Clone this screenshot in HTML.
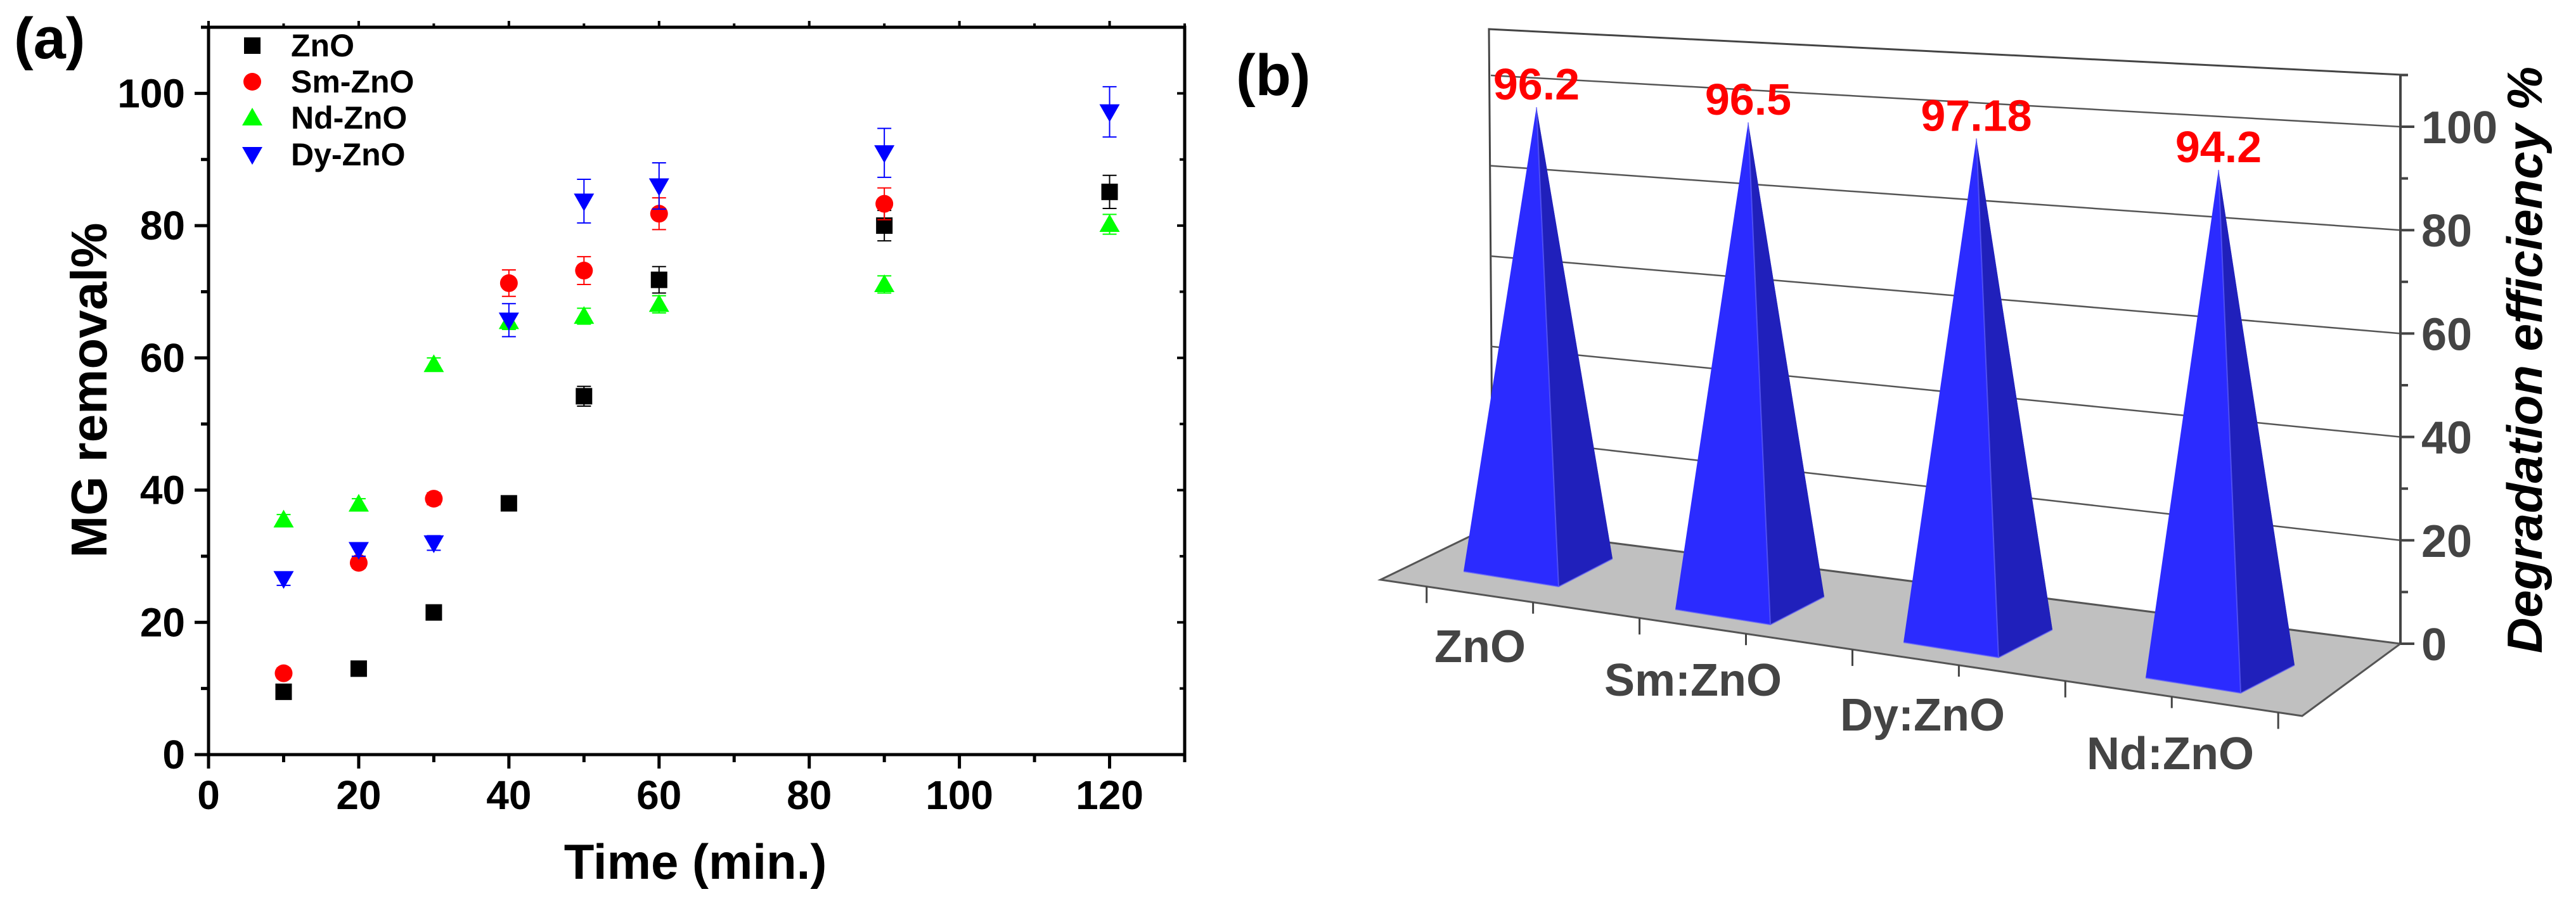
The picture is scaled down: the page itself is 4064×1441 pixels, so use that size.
<!DOCTYPE html>
<html><head><meta charset="utf-8"><style>
html,body{margin:0;padding:0;background:#fff;}
svg{display:block;}
text{font-family:"Liberation Sans Narrow","Liberation Sans",sans-serif;font-weight:bold;}
</style></head><body>
<svg id="fig" xmlns="http://www.w3.org/2000/svg" width="4064" height="1441" viewBox="0 0 4064 1441">
<g id="pa"></g>
<g id="pb"></g>
</svg>
<script>
// ---------- Panel (a) data ----------
const times = [10, 20, 30, 40, 50, 60, 90, 120];
const znoVals = [9.5, 13, 21.5, 38, 54.2, 71.8, 80, 85.1];
const znoErr = [0.8, 0.8, 0.9, 1, 1.5, 2, 2.3, 2.5];
const smTimes = [10, 20, 30, 40, 50, 60, 90];
const smVals = [12.3, 29, 38.7, 71.3, 73.2, 81.8, 83.3];
const smErr = [0.8, 0.8, 0.9, 2, 2.1, 2.4, 2.4];
const ndVals = [35.5, 37.9, 59, 65.5, 66.3, 68.1, 71.1, 80.2];
const ndErr = [0.8, 0.8, 1, 1.2, 1.2, 1.3, 1.3, 1.5];
const dyVals = [26.6, 31, 32, 65.7, 83.7, 86, 91, 97.2];
const dyErr = [1, 1, 1.1, 2.5, 3.3, 3.5, 3.7, 3.8];
const xTicks = [0, 20, 40, 60, 80, 100, 120];
const yTicks = [0, 20, 40, 60, 80, 100];
// ---------- Panel (b) data ----------
const cats = ["ZnO", "Sm:ZnO", "Dy:ZnO", "Nd:ZnO"];
const effVals = [96.2, 96.5, 97.18, 94.2];
const effLabels = ["96.2", "96.5", "97.18", "94.2"];
const effTicks = [0, 20, 40, 60, 80, 100];

const NS = "http://www.w3.org/2000/svg";
function mk(parent, tag, attrs, txt) {
  const e = document.createElementNS(NS, tag);
  for (const k in attrs) e.setAttribute(k, attrs[k]);
  if (txt !== undefined) e.textContent = txt;
  parent.appendChild(e);
  return e;
}
const pa = document.getElementById('pa');
const pb = document.getElementById('pb');

// axes (a)
const X0 = 329, X1 = 1869, Y0 = 1191, Y1 = 43;
const xs = v => X0 + (v / 130) * (X1 - X0);
const ys = v => Y0 - (v / 110) * (Y0 - Y1);

let frame = mk(pa, 'rect', {x: X0, y: Y1, width: X1 - X0, height: Y0 - Y1, fill: 'none', stroke: '#000', 'stroke-width': 5});


for (let v = 0; v <= 130; v += 10) {
  const maj = v % 20 === 0;
  let t = mk(pa, 'line', {x1: xs(v), x2: xs(v), y1: Y0, y2: Y0 + (maj ? 22 : 12), stroke: '#000', 'stroke-width': 5});
  
  
  let t2 = mk(pa, 'line', {x1: xs(v), x2: xs(v), y1: Y1, y2: Y1 - (maj ? 10 : 6), stroke: '#000', 'stroke-width': 4});
  
  
}
for (let v = 0; v <= 110; v += 10) {
  const maj = v % 20 === 0;
  let t = mk(pa, 'line', {x1: X0, x2: X0 - (maj ? 22 : 12), y1: ys(v), y2: ys(v), stroke: '#000', 'stroke-width': 5});
  
  
  let t2 = mk(pa, 'line', {x1: X1, x2: X1 - (maj ? 12 : 8), y1: ys(v), y2: ys(v), stroke: '#000', 'stroke-width': 4});
  
  
}
xTicks.forEach(v => {
  let t = mk(pa, 'text', {x: xs(v), y: Y0 + 86, 'font-size': 64, 'text-anchor': 'middle'}, String(v));
  
  
});
yTicks.forEach(v => {
  let t = mk(pa, 'text', {x: 292, y: ys(v) + 22, 'font-size': 64, 'text-anchor': 'end'}, String(v));
  
  
});
let xt = mk(pa, 'text', {x: 1097, y: 1387, 'font-size': 78, 'text-anchor': 'middle'}, 'Time (min.)');


let yt = mk(pa, 'text', {x: 0, y: 0, 'font-size': 80, 'text-anchor': 'middle', transform: 'translate(168,616) rotate(-90)', style: 'font-family:"Liberation Sans",sans-serif'}, 'MG removal%');


let la = mk(pa, 'text', {x: 22, y: 92, 'font-size': 92, style: 'font-family:"Liberation Sans",sans-serif'}, '(a)');



function marker(g, shape, cx, cy, color) {
  let e;
  if (shape === 'sq') e = mk(g, 'rect', {x: cx - 13, y: cy - 13, width: 26, height: 26, fill: color});
  else if (shape === 'ci') e = mk(g, 'circle', {cx: cx, cy: cy, r: 14, fill: color});
  else if (shape === 'up') e = mk(g, 'polygon', {points: `${cx},${cy - 16} ${cx + 16},${cy + 12} ${cx - 16},${cy + 12}`, fill: color});
  else e = mk(g, 'polygon', {points: `${cx - 16},${cy - 12} ${cx + 16},${cy - 12} ${cx},${cy + 16}`, fill: color});
  return e;
}
function series(name, tArr, vals, errs, shape, color) {
  const g = mk(pa, 'g', {});
  
  
  tArr.forEach((t, i) => {
    const cx = xs(t), cy = ys(vals[i]), e1 = ys(vals[i] + errs[i]), e2 = ys(vals[i] - errs[i]);
    const eb = mk(g, 'path', {d: `M${cx},${e1}V${e2}M${cx - 11},${e1}H${cx + 11}M${cx - 11},${e2}H${cx + 11}`, stroke: color, 'stroke-width': 2, fill: 'none'});
    
    
    const m = marker(g, shape, cx, cy, color);
    
    
  });
}
series('zno', times, znoVals, znoErr, 'sq', '#000');
series('sm-zno', smTimes, smVals, smErr, 'ci', '#ff0000');
series('nd-zno', times, ndVals, ndErr, 'up', '#00ff00');
series('dy-zno', times, dyVals, dyErr, 'dn', '#0000ff');

const legNames = ['ZnO', 'Sm-ZnO', 'Nd-ZnO', 'Dy-ZnO'];
const legShapes = ['sq', 'ci', 'up', 'dn'];
const legColors = ['#000', '#ff0000', '#00ff00', '#0000ff'];
const legY = [72, 129, 186, 244];
legNames.forEach((n, i) => {
  const g = mk(pa, 'g', {});
  
  
  marker(g, legShapes[i], 398, legY[i], legColors[i]);
  mk(g, 'text', {x: 459, y: legY[i] + 17, 'font-size': 50}, n);
});

// ---------- Panel (b) ----------
const effL = v => 832 - v * 7.13;   // back wall left edge
const effR = v => 1016 - v * 8.16;  // right axis
const floor = mk(pb, 'polygon', {points: '2178,915 2349,832 3787,1016 3632,1130', fill: '#c0c0c0', stroke: '#555', 'stroke-width': 3});


let wall = mk(pb, 'path', {d: 'M2355,832 L2349,46 L3789,118', fill: 'none', stroke: '#444', 'stroke-width': 3});


effTicks.forEach(v => {
  if (v === 0) return;
  let gl = mk(pb, 'line', {x1: 2352, y1: effL(v), x2: 3787, y2: effR(v), stroke: '#555', 'stroke-width': 2.5});
  
  
});
let ax = mk(pb, 'line', {x1: 3787, y1: 118, x2: 3787, y2: 1016, stroke: '#444', 'stroke-width': 4});


for (let v = 0; v <= 110; v += 10) {
  let t = mk(pb, 'line', {x1: 3787, x2: 3787 + (v % 20 === 0 ? 22 : 12), y1: effR(v), y2: effR(v), stroke: '#444', 'stroke-width': 4});
  
  
}
effTicks.forEach(v => {
  let t = mk(pb, 'text', {x: 3820, y: effR(v) + 26, 'font-size': 72, fill: '#444'}, String(v));
  
  
});
let ybt = mk(pb, 'text', {x: 0, y: 0, 'font-size': 78, 'text-anchor': 'middle', transform: 'translate(4010,568) rotate(-90)', style: 'font-family:"Liberation Sans",sans-serif;font-style:italic'}, 'Degradation efficiency %');


let lb = mk(pb, 'text', {x: 1950, y: 150, 'font-size': 92, style: 'font-family:"Liberation Sans",sans-serif'}, '(b)');


// front-edge ticks
for (let k = 0; k <= 8; k++) {
  const f = 0.05 + k * 0.1155;
  const x = 2178 + f * (3632 - 2178), y = 915 + f * (1130 - 915);
  let t = mk(pb, 'line', {x1: x, y1: y, x2: x, y2: y + (k % 2 === 0 ? 26 : 18), stroke: '#444', 'stroke-width': 3});
  
  
}
// pyramid layout (geometry, not data)
const pyCx = [2424, 2758, 3118, 3500];
const pyBy = [880, 940, 992, 1048];
const pyK = [7.39, 7.74, 7.96, 8.28];
const catLX = [2335, 2671, 3033, 3424];
const catLY = [1045, 1098, 1153, 1214];
cats.forEach((c, i) => {
  const g = mk(pb, 'g', {});
  
  
  const cx = pyCx[i], by = pyBy[i];
  const ap = [cx, by - effVals[i] * pyK[i]];
  const L = [cx - 115, by + 22], F = [cx + 35, by + 46], R = [cx + 120, by + 2], B = [cx - 60, by - 48];
  const p = a => a.join(',');
  mk(g, 'polygon', {points: `${p(L)} ${p(F)} ${p(R)} ${p(B)}`, fill: '#1a1ad8'});
  mk(g, 'polygon', {points: `${p(B)} ${p(R)} ${p(ap)}`, fill: '#2323c8'});
  mk(g, 'polygon', {points: `${p(L)} ${p(F)} ${p(ap)}`, fill: '#2b2bff'});
  mk(g, 'polygon', {points: `${p(F)} ${p(R)} ${p(ap)}`, fill: '#2020bb'});
  mk(g, 'path', {d: `M${p(L)}L${p(F)}L${p(R)}M${p(F)}L${p(ap)}`, stroke: '#6a6aff', 'stroke-width': 2, fill: 'none', opacity: 0.6});
  let vl = mk(pb, 'text', {x: cx, y: ap[1] - 12, 'font-size': 70, fill: '#ff0000', 'text-anchor': 'middle'}, effLabels[i]);
  
  
  let cl = mk(pb, 'text', {x: catLX[i], y: catLY[i], 'font-size': 72, fill: '#444', 'text-anchor': 'middle'}, c);
  
  
});
</script>
</body></html>
